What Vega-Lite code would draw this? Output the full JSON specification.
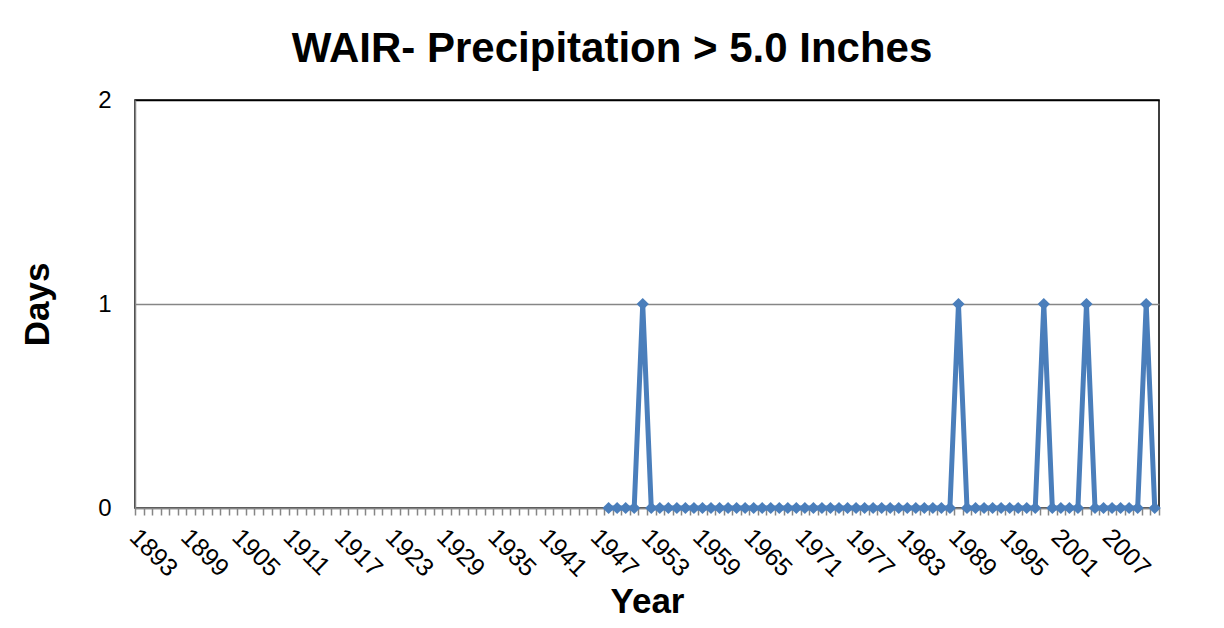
{
  "$schema": "https://vega.github.io/schema/vega-lite/v6.json",
  "width": 1024,
  "height": 408,
  "autosize": {"type": "none"},
  "padding": {"left": 135, "top": 100, "right": 65, "bottom": 120},
  "background": "white",
  "title": {"text": "WAIR- Precipitation > 5.0 Inches", "font": "Liberation Sans", "fontSize": 42, "fontWeight": "bold", "color": "#000000", "anchor": "middle", "offset": 17, "dx": -35},
  "config": {"view": {"stroke": "#000000", "strokeWidth": 1.5}},
  "data": {"values": [
    {"year": 1948, "days": 0}, {"year": 1949, "days": 0}, {"year": 1950, "days": 0}, {"year": 1951, "days": 0},
    {"year": 1952, "days": 1}, {"year": 1953, "days": 0}, {"year": 1954, "days": 0}, {"year": 1955, "days": 0},
    {"year": 1956, "days": 0}, {"year": 1957, "days": 0}, {"year": 1958, "days": 0}, {"year": 1959, "days": 0},
    {"year": 1960, "days": 0}, {"year": 1961, "days": 0}, {"year": 1962, "days": 0}, {"year": 1963, "days": 0},
    {"year": 1964, "days": 0}, {"year": 1965, "days": 0}, {"year": 1966, "days": 0}, {"year": 1967, "days": 0},
    {"year": 1968, "days": 0}, {"year": 1969, "days": 0}, {"year": 1970, "days": 0}, {"year": 1971, "days": 0},
    {"year": 1972, "days": 0}, {"year": 1973, "days": 0}, {"year": 1974, "days": 0}, {"year": 1975, "days": 0},
    {"year": 1976, "days": 0}, {"year": 1977, "days": 0}, {"year": 1978, "days": 0}, {"year": 1979, "days": 0},
    {"year": 1980, "days": 0}, {"year": 1981, "days": 0}, {"year": 1982, "days": 0}, {"year": 1983, "days": 0},
    {"year": 1984, "days": 0}, {"year": 1985, "days": 0}, {"year": 1986, "days": 0}, {"year": 1987, "days": 0},
    {"year": 1988, "days": 0}, {"year": 1989, "days": 1}, {"year": 1990, "days": 0}, {"year": 1991, "days": 0},
    {"year": 1992, "days": 0}, {"year": 1993, "days": 0}, {"year": 1994, "days": 0}, {"year": 1995, "days": 0},
    {"year": 1996, "days": 0}, {"year": 1997, "days": 0}, {"year": 1998, "days": 0}, {"year": 1999, "days": 1},
    {"year": 2000, "days": 0}, {"year": 2001, "days": 0}, {"year": 2002, "days": 0}, {"year": 2003, "days": 0},
    {"year": 2004, "days": 1}, {"year": 2005, "days": 0}, {"year": 2006, "days": 0}, {"year": 2007, "days": 0},
    {"year": 2008, "days": 0}, {"year": 2009, "days": 0}, {"year": 2010, "days": 0}, {"year": 2011, "days": 1},
    {"year": 2012, "days": 0}
  ]},
  "mark": {"type": "line", "color": "#4A7EBB", "strokeWidth": 5, "point": {"shape": "diamond", "size": 150, "filled": true, "color": "#4A7EBB"}},
  "encoding": {
    "x": {
      "field": "year", "type": "quantitative",
      "scale": {"domain": [1892.5, 2012.5], "nice": false, "zero": false},
      "axis": {
        "values": [1892.5,1893.5,1894.5,1895.5,1896.5,1897.5,1898.5,1899.5,1900.5,1901.5,1902.5,1903.5,1904.5,1905.5,1906.5,1907.5,1908.5,1909.5,1910.5,1911.5,1912.5,1913.5,1914.5,1915.5,1916.5,1917.5,1918.5,1919.5,1920.5,1921.5,1922.5,1923.5,1924.5,1925.5,1926.5,1927.5,1928.5,1929.5,1930.5,1931.5,1932.5,1933.5,1934.5,1935.5,1936.5,1937.5,1938.5,1939.5,1940.5,1941.5,1942.5,1943.5,1944.5,1945.5,1946.5,1947.5,1948.5,1949.5,1950.5,1951.5,1952.5,1953.5,1954.5,1955.5,1956.5,1957.5,1958.5,1959.5,1960.5,1961.5,1962.5,1963.5,1964.5,1965.5,1966.5,1967.5,1968.5,1969.5,1970.5,1971.5,1972.5,1973.5,1974.5,1975.5,1976.5,1977.5,1978.5,1979.5,1980.5,1981.5,1982.5,1983.5,1984.5,1985.5,1986.5,1987.5,1988.5,1989.5,1990.5,1991.5,1992.5,1993.5,1994.5,1995.5,1996.5,1997.5,1998.5,1999.5,2000.5,2001.5,2002.5,2003.5,2004.5,2005.5,2006.5,2007.5,2008.5,2009.5,2010.5,2011.5,2012.5],
        "labelExpr": "((datum.value + 0.5 - 1893) % 6 == 0 && datum.value < 2012) ? '' + (datum.value + 0.5) : ''",
        "labelOffset": 7,
        "labelAngle": 45,
        "labelAlign": "left",
        "labelBaseline": "top",
        "labelFont": "Liberation Sans",
        "labelFontSize": 25,
        "labelColor": "#000000",
        "labelPadding": 9,
        "labelOverlap": false,
        "labelFlush": false,
        "labelBound": false,
        "tickColor": "#868686",
        "tickSize": 7,
        "tickWidth": 1.5,
        "domainColor": "#868686",
        "domainWidth": 1.5,
        "grid": false,
        "title": "Year",
        "titleFont": "Liberation Sans",
        "titleFontSize": 35,
        "titleFontWeight": "bold",
        "titleColor": "#000000",
        "titlePadding": 3
      }
    },
    "y": {
      "field": "days", "type": "quantitative",
      "scale": {"domain": [0, 2], "nice": false},
      "axis": {
        "values": [0, 1, 2],
        "labelExpr": "'' + datum.value",
        "ticks": false,
        "labelFont": "Liberation Sans",
        "labelFontSize": 24,
        "labelColor": "#000000",
        "labelPadding": 24,
        "labelOverlap": false,
        "labelFlush": false,
        "domainColor": "#868686",
        "domainWidth": 1.5,
        "grid": true,
        "gridColor": {"expr": "datum.value == 2 ? '#000000' : '#868686'"},
        "gridWidth": 1.5,
        "title": "Days",
        "titleFont": "Liberation Sans",
        "titleFontSize": 35,
        "titleFontWeight": "bold",
        "titleColor": "#000000",
        "titlePadding": 42
      }
    }
  }
}
